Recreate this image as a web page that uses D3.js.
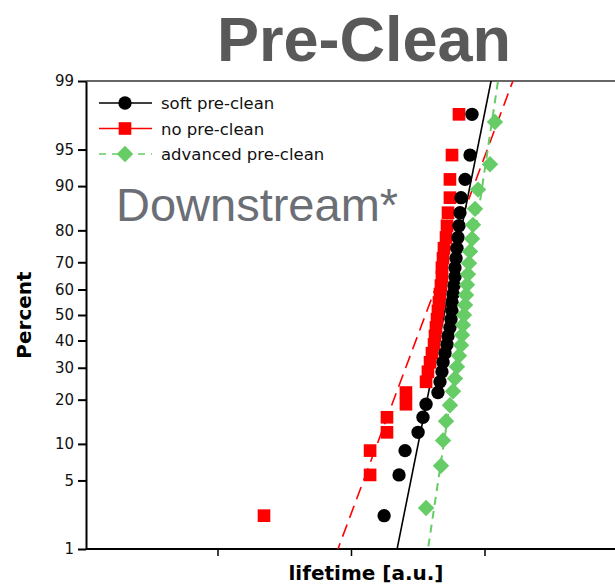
<!DOCTYPE html>
<html>
<head>
<meta charset="utf-8">
<script src="https://cdn.jsdelivr.net/npm/d3@7"></script>
<style>
  body { margin: 0; background: #fff; }
  svg { display: block; }
</style>
</head>
<body>
<svg id="chart" width="615" height="585"></svg>
<script>
// lifetimes [a.u.], sorted, one array per pre-clean variant
const softLife = [177, 229, 254, 318, 346, 365, 448, 464, 480, 489, 506, 524, 533, 551, 561,
                  571, 571, 581, 591, 601, 601, 612, 622, 633, 644, 655, 667, 715, 779, 806];
const noLife = [22.3, 139, 139, 186, 186, 258, 258, 365, 377, 391, 404, 419, 426, 433, 441,
                448, 456, 464, 472, 480, 480, 489, 497, 515, 524, 533, 551, 551, 571, 644];
const advLife = [365, 472, 489, 515, 551, 581, 601, 622, 644, 667, 679, 690, 702, 715, 727,
                 740, 752, 766, 779, 806, 820, 849, 894, 1099, 1198];

// lognormal fits: median lifetime and sigma (log10)
const fitMedian = [498, 361, 690];
const fitSigma = [0.1513, 0.2817, 0.1127];

const seriesNames = ["soft pre-clean", "no pre-clean", "advanced pre-clean"];
const percentTicks = [1, 5, 10, 20, 30, 40, 50, 60, 70, 80, 90, 95, 99];
const lifeTicks = [10, 100, 1000, 10000];

// inverse normal cdf (Acklam)
function probit(p) {
  const a = [-3.969683028665376e+01, 2.209460984245205e+02, -2.759285104469687e+02, 1.383577518672690e+02, -3.066479806614716e+01, 2.506628277459239e+00];
  const b = [-5.447609879822406e+01, 1.615858368580409e+02, -1.556989798598866e+02, 6.680131188771972e+01, -1.328068155288572e+01];
  const c = [-7.784894002430293e-03, -3.223964580411365e-01, -2.400758277161838e+00, -2.549732539343734e+00, 4.374664141464968e+00, 2.938163982698783e+00];
  const d = [7.784695709041462e-03, 3.224671290700398e-01, 2.445134137142996e+00, 3.754408661907416e+00];
  const pl = 0.02425;
  let q, r;
  if (p < pl) {
    q = Math.sqrt(-2 * Math.log(p));
    return (((((c[0]*q+c[1])*q+c[2])*q+c[3])*q+c[4])*q+c[5]) / ((((d[0]*q+d[1])*q+d[2])*q+d[3])*q+1);
  }
  if (p > 1 - pl) {
    q = Math.sqrt(-2 * Math.log(1 - p));
    return -(((((c[0]*q+c[1])*q+c[2])*q+c[3])*q+c[4])*q+c[5]) / ((((d[0]*q+d[1])*q+d[2])*q+d[3])*q+1);
  }
  q = p - 0.5; r = q * q;
  return (((((a[0]*r+a[1])*r+a[2])*r+a[3])*r+a[4])*r+a[5])*q / (((((b[0]*r+b[1])*r+b[2])*r+b[3])*r+b[4])*r+1);
}

// median rank plotting position
const toPoints = arr => arr.map((t, i) => ({ t: t, p: (i + 1 - 0.3) / (arr.length + 0.4) }));

const svg = d3.select("#chart");
const plotL = 86, plotR = 640, plotT = 81, plotB = 549;

const x = d3.scaleLog().domain([1, 10000]).range([84, 618]);
const y = d3.scaleLinear().domain([probit(0.01), probit(0.99)]).range([plotB, plotT]);

svg.append("defs").append("clipPath").attr("id", "plotclip")
  .append("rect").attr("x", plotL).attr("y", plotT).attr("width", plotR - plotL).attr("height", plotB - plotT);

// title + annotation
svg.append("text").attr("x", 364).attr("y", 61).attr("text-anchor", "middle")
  .style("font-family", "Liberation Sans, Arial, sans-serif").style("font-weight", "bold")
  .style("font-size", "63px").attr("fill", "#595959").text("Pre-Clean");

svg.append("text").attr("x", 116).attr("y", 221)
  .style("font-family", "Liberation Sans, Arial, sans-serif")
  .style("font-size", "47px").attr("fill", "#6b6e74").text("Downstream*");

// top frame line
svg.append("line").attr("x1", plotL).attr("x2", plotR).attr("y1", plotT).attr("y2", plotT)
  .attr("stroke", "#333").attr("stroke-width", 1.5);

// axes
const yAxis = svg.append("g").attr("transform", `translate(${plotL},0)`)
  .call(d3.axisLeft(y).tickValues(percentTicks.map(p => probit(p / 100)))
    .tickFormat((d, i) => percentTicks[i]).tickSize(8).tickSizeOuter(0).tickPadding(4));
yAxis.select(".domain").attr("stroke-width", 2);
yAxis.selectAll(".tick line").attr("stroke-width", 2);
yAxis.selectAll(".tick text").style("font-family", "DejaVu Sans, Verdana, sans-serif")
  .style("font-size", "15px").attr("fill", "#111");

const xAxis = svg.append("g").attr("transform", `translate(0,${plotB})`)
  .call(d3.axisBottom(x).tickValues(lifeTicks).tickFormat("").tickSize(7).tickSizeOuter(0));
xAxis.select(".domain").attr("d", `M${plotL},0H${plotR}`).attr("stroke-width", 2);
xAxis.selectAll(".tick line").attr("stroke-width", 1.5);

svg.append("text").attr("transform", "translate(31,315) rotate(-90)").attr("text-anchor", "middle")
  .style("font-family", "DejaVu Sans, Verdana, sans-serif").style("font-weight", "bold")
  .style("font-size", "20px").text("Percent");
svg.append("text").attr("x", 366).attr("y", 580).attr("text-anchor", "middle")
  .style("font-family", "DejaVu Sans, Verdana, sans-serif").style("font-weight", "bold")
  .style("font-size", "20px").text("lifetime [a.u.]");

// fit lines
const lineStyles = [
  { color: "#000", width: 1.6, dash: null },
  { color: "#ff0000", width: 1.6, dash: "13,7" },
  { color: "#66cc66", width: 2, dash: "8,6" }
];
const plot = svg.append("g").attr("clip-path", "url(#plotclip)");
const zRange = [probit(0.005), probit(0.995)];
const lineGen = d3.line().x(d => x(d.t)).y(d => y(d.z));
[1, 0, 2].forEach(k => {
  const pts = zRange.map(z => ({ z: z, t: fitMedian[k] * Math.pow(10, fitSigma[k] * z) }));
  plot.append("path").attr("d", lineGen(pts)).attr("fill", "none")
    .attr("stroke", lineStyles[k].color).attr("stroke-width", lineStyles[k].width)
    .attr("stroke-dasharray", lineStyles[k].dash);
});

// markers: circle, square, square turned 45 deg for the diamond
const sym = [d3.symbolCircle, d3.symbolSquare, d3.symbolSquare];
const symSize = [140, 160, 135];
const symRot = [0, 0, 45];
const allData = [softLife, noLife, advLife];
[1, 0, 2].forEach(k => {
  plot.append("g").selectAll("path").data(toPoints(allData[k])).join("path")
    .attr("transform", d => `translate(${x(d.t)},${y(probit(d.p))}) rotate(${symRot[k]})`)
    .attr("d", d3.symbol(sym[k], symSize[k]))
    .attr("fill", lineStyles[k].color);
});

// legend
const legend = svg.append("g");
seriesNames.forEach((name, k) => {
  const ly = 103 + k * 25.5;
  legend.append("line").attr("x1", 99).attr("x2", 152).attr("y1", ly).attr("y2", ly)
    .attr("stroke", lineStyles[k].color).attr("stroke-width", 1.6)
    .attr("stroke-dasharray", k === 2 ? "7,6" : null);
  legend.append("path").attr("transform", `translate(125,${ly}) rotate(${symRot[k]})`)
    .attr("d", d3.symbol(sym[k], symSize[k])).attr("fill", lineStyles[k].color);
  legend.append("text").attr("x", 161).attr("y", ly + 6)
    .style("font-family", "DejaVu Sans, Verdana, sans-serif").style("font-size", "16.5px")
    .attr("fill", "#111").text(name);
});
</script>
</body>
</html>
